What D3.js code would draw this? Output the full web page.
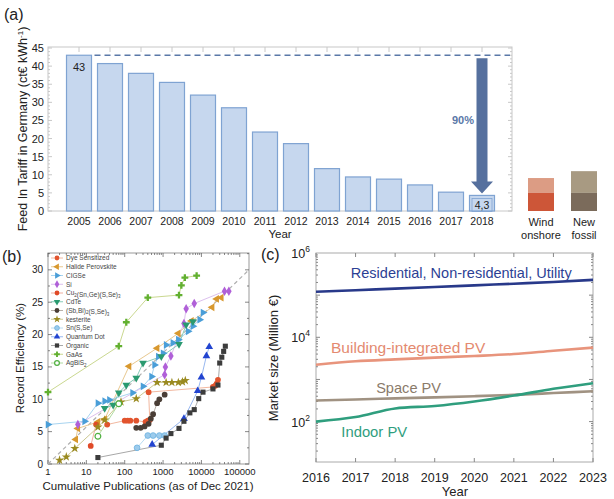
<!DOCTYPE html>
<html>
<head>
<meta charset="utf-8">
<script src="https://cdn.jsdelivr.net/npm/d3@7"></script>
<style>
  body { margin: 0; background: #fff; }
  svg { font-family: "Liberation Sans", Arial, sans-serif; display: block; }
</style>
</head>
<body>
<svg id="fig" width="614" height="499"></svg>
<script>
// ---- panel (a) data ----
const tariffYears = [2005, 2006, 2007, 2008, 2009, 2010, 2011, 2012, 2013, 2014, 2015, 2016, 2017, 2018];
const tariffValues = [43, 40.7, 38, 35.5, 32, 28.5, 21.8, 18.6, 11.7, 9.4, 8.8, 7.2, 5.2, 4.3];
const compareNames = ["Wind onshore", "New fossil"];
const compareLow = [5.0, 5.0];
const compareHigh = [9.1, 11.0];

// ---- panel (b) data: [cumulative publications, record efficiency %] ----
const techNames = ["Dye Sensitized", "Halide Perovskite", "CIGSe", "Si", "Cu2(Sn,Ge)(S,Se)3", "CdTe",
  "(Sb,Bi)2(S,Se)3", "kesterite", "Sn(S,Se)", "Quantum Dot", "Organic", "GaAs", "AgBiS2"];
const dyeSensitized = [[35, 6.1], [100, 6.7], [120, 6.7], [140, 6.7], [200, 6.7], [350, 6.5], [400, 6.7], [450, 6.8], [420, 11.1], [20000, 11.9], [23000, 12.1], [25000, 12.4], [27000, 13.0]];
const halidePerovskite = [[5.3, 3.8], [6, 5.5], [20, 6.5], [30, 6.9], [130, 15.1], [700, 17.9], [2500, 20.2], [5500, 22.1], [19000, 24.2], [25000, 25.5], [33000, 25.7]];
const cigse = [[1, 6.1], [9, 6.6], [20, 9.4], [30, 9.7], [40, 9.9], [160, 11.0], [300, 12.0], [500, 13.5], [600, 15.3], [750, 16.6], [1000, 17.1], [1200, 18.4], [1800, 18.7], [2500, 19.2], [4500, 20.5], [6000, 21.3], [9000, 22.3], [11000, 23.4]];
const silicon = [[6, 6.1], [1100, 13.8], [1150, 15.0], [1600, 16.7], [3500, 21.7], [4000, 24.0], [6500, 24.8], [40000, 26.7], [52000, 26.7]];
const cuSnGe = [[13, 2.8], [18, 6.1]];
const cdte = [[30, 8.6], [50, 9.1], [70, 11.0], [110, 12.2], [200, 13.3], [300, 15.6], [900, 16.6], [2600, 18.5], [4000, 21.5], [6000, 22.0]];
const sbBi = [[200, 5.6], [260, 5.6], [330, 5.8], [420, 6.2], [480, 7.0], [550, 7.7], [700, 9.4], [800, 10.0], [1100, 10.7]];
const kesterite = [[2, 0.6], [3, 1.1], [5, 2.4], [20, 5.7], [30, 6.8], [80, 9.6], [200, 10.1], [700, 12.6], [1200, 12.6], [1700, 12.6], [2500, 12.6], [3200, 12.7], [3800, 12.9]];
const snSSe = [[210, 2.5], [400, 4.4], [550, 4.4], [800, 4.4], [1100, 4.4]];
const quantumDot = [[520, 3.0], [3500, 7.0], [8000, 11.3], [10000, 13.4], [13500, 16.7], [16000, 18.1]];
const organic = [[20, 1.0], [900, 2.9], [1200, 4.0], [1600, 4.7], [2600, 5.5], [3500, 6.6], [5000, 7.9], [6500, 8.4], [8500, 10.1], [11000, 11.1], [20000, 11.6], [27000, 12.2], [30000, 15.6], [34000, 16.5], [38000, 17.4], [42000, 18.2]];
const gaas = [[1, 11.1], [70, 18.2], [110, 21.9], [400, 25.7], [2600, 26.1], [3000, 27.6], [3700, 28.8], [7500, 29.1]];
const agbis2 = [[20, 4.3], [70, 9.3]];
const trendLine = [[1, 0], [174000, 30]];
const effTicks = [0, 5, 10, 15, 20, 25, 30];
const pubTicks = [1, 10, 100, 1000, 10000, 100000];

// ---- panel (c) data: market size, million € ----
const marketYears = [2016, 2017, 2018, 2019, 2020, 2021, 2022, 2023];
const residential = [120000, 131000, 143000, 156000, 171000, 187000, 205000, 230000];
const buildingPV = [2240, 2700, 3000, 3300, 3600, 4000, 4800, 5700];
const spacePV = [316, 335, 355, 375, 400, 430, 475, 525];
const indoorPV = [100, 128, 205, 235, 300, 415, 600, 815];
const marketExps = [2, 4, 6];

const svg = d3.select("#fig");
svg.append("rect").attr("width", 614).attr("height", 499).attr("fill", "#fff");

const FRAME = "#c8c8c8";
const TXT = "#222";

// ================= panel (a) =================
const xA = d3.scalePoint().domain(tariffYears).range([79, 482]);
const yA = d3.scaleLinear().domain([0, 45]).range([211, 48]);
const cmpX = d3.scalePoint().domain(compareNames).range([541, 584]);
const barW = 25;
const gA = svg.append("g");

gA.append("rect").attr("x", 48).attr("y", 47).attr("width", 464).attr("height", 164)
  .attr("fill", "none").attr("stroke", FRAME);

// minor and major ticks on left and right
d3.range(0, 46, 1).forEach((v) => {
  const len = v % 5 === 0 ? 4 : 2;
  gA.append("line").attr("x1", 48).attr("x2", 48 + len).attr("y1", yA(v)).attr("y2", yA(v)).attr("stroke", FRAME);
  gA.append("line").attr("x1", 512).attr("x2", 512 - len).attr("y1", yA(v)).attr("y2", yA(v)).attr("stroke", FRAME);
});
tariffYears.forEach((yr) => {
  gA.append("line").attr("x1", xA(yr)).attr("x2", xA(yr)).attr("y1", 47).attr("y2", 52).attr("stroke", FRAME);
  gA.append("line").attr("x1", xA(yr)).attr("x2", xA(yr)).attr("y1", 211).attr("y2", 207).attr("stroke", FRAME);
});

gA.selectAll(".ytA").data(d3.range(0, 46, 5)).join("text")
  .attr("x", 44).attr("y", (d) => yA(d) + 4).attr("text-anchor", "end")
  .attr("font-size", 11).attr("fill", TXT).text((d) => d);

gA.selectAll(".xtA").data(tariffYears).join("text")
  .attr("x", (d) => xA(d)).attr("y", 225).attr("text-anchor", "middle")
  .attr("font-size", 10.5).attr("fill", TXT).text((d) => d);

gA.append("text").attr("x", 280).attr("y", 238).attr("text-anchor", "middle")
  .attr("font-size", 11.5).attr("fill", TXT).text("Year");

const yLabA = gA.append("text").attr("transform", "translate(27,129) rotate(-90)")
  .attr("text-anchor", "middle").attr("font-size", 12.5).attr("fill", TXT);
yLabA.append("tspan").text("Feed In Tariff in Germany (ct€ kWh");
yLabA.append("tspan").attr("dy", -4).attr("font-size", 8).text("-1");
yLabA.append("tspan").attr("dy", 4).text(")");

gA.selectAll(".barA").data(tariffValues).join("rect")
  .attr("x", (d, i) => xA(tariffYears[i]) - barW / 2)
  .attr("y", (d) => yA(d))
  .attr("width", barW)
  .attr("height", (d) => yA(0) - yA(d))
  .attr("fill", "#c6d7ee").attr("stroke", "#7fa3d2").attr("stroke-width", 1.2);

// dashed reference line at the 2005 value
gA.append("line").attr("x1", xA(2005) + barW / 2 + 3).attr("x2", 510)
  .attr("y1", yA(tariffValues[0])).attr("y2", yA(tariffValues[0]))
  .attr("stroke", "#5a78a8").attr("stroke-width", 1.5).attr("stroke-dasharray", "6,4");

gA.append("text").attr("x", xA(2005)).attr("y", yA(tariffValues[0]) + 16).attr("text-anchor", "middle")
  .attr("font-size", 11).attr("fill", TXT).text("43");

const last = tariffValues[tariffValues.length - 1];
const lx = xA(2018);
gA.append("rect").attr("x", lx - 10).attr("y", yA(last) + 3).attr("width", 20).attr("height", 13)
  .attr("fill", "none").attr("stroke", "#7fa3d2").attr("stroke-width", 0.8);
gA.append("text").attr("x", lx).attr("y", yA(last) + 14).attr("text-anchor", "middle")
  .attr("font-size", 10.5).attr("fill", TXT).text("4,3");

// downward arrow from 43 to 4.3
const aTop = yA(tariffValues[0]) + 3;
const aTip = yA(last) - 2;
const headH = 12;
gA.append("path")
  .attr("d", `M${lx - 5.5},${aTop} L${lx + 5.5},${aTop} L${lx + 5.5},${aTip - headH} L${lx + 11},${aTip - headH} L${lx},${aTip} L${lx - 11},${aTip - headH} L${lx - 5.5},${aTip - headH} Z`)
  .attr("fill", "#56709e");
gA.append("text").attr("x", lx - 19).attr("y", 124).attr("text-anchor", "middle")
  .attr("font-size", 11).attr("font-weight", "bold").attr("fill", "#5a78a8").text("90%");

// comparison blocks
const cmpLight = ["#dc9c84", "#a89a82"];
const cmpDark = ["#cd5638", "#7b6b5b"];
compareNames.forEach((n, i) => {
  gA.append("rect").attr("x", cmpX(n) - 13).attr("y", yA(compareHigh[i])).attr("width", 26)
    .attr("height", yA(compareLow[i]) - yA(compareHigh[i])).attr("fill", cmpLight[i]);
  gA.append("rect").attr("x", cmpX(n) - 13).attr("y", yA(compareLow[i])).attr("width", 26)
    .attr("height", yA(0) - yA(compareLow[i])).attr("fill", cmpDark[i]);
  const words = n.split(" ");
  words.forEach((w, k) => {
    gA.append("text").attr("x", cmpX(n)).attr("y", 226 + k * 13).attr("text-anchor", "middle")
      .attr("font-size", 11).attr("fill", TXT).text(w);
  });
});

// ================= panel (b) =================
const xB = d3.scaleLog().domain([1, 174000]).range([48, 249]);
const yB = d3.scaleLinear().domain([0, 32.6]).range([464, 253]);
const gB = svg.append("g");

gB.append("rect").attr("x", 48).attr("y", 253).attr("width", 201).attr("height", 211)
  .attr("fill", "none").attr("stroke", "#999");

// log ticks top and bottom
const minorB = [];
for (let e = 0; e < 6; e++) {
  for (let m = 1; m < 10; m++) {
    const v = m * Math.pow(10, e);
    if (v <= 174000) minorB.push(v);
  }
}
minorB.forEach((v) => {
  const len = pubTicks.includes(v) ? 4 : 2;
  gB.append("line").attr("x1", xB(v)).attr("x2", xB(v)).attr("y1", 464).attr("y2", 464 - len).attr("stroke", "#555").attr("stroke-width", 0.7);
  gB.append("line").attr("x1", xB(v)).attr("x2", xB(v)).attr("y1", 253).attr("y2", 253 + len).attr("stroke", "#555").attr("stroke-width", 0.7);
});
d3.range(0, 32.6, 2.5).forEach((v) => {
  const len = v % 5 === 0 ? 4 : 2;
  gB.append("line").attr("x1", 48).attr("x2", 48 + len).attr("y1", yB(v)).attr("y2", yB(v)).attr("stroke", "#555").attr("stroke-width", 0.7);
  gB.append("line").attr("x1", 249).attr("x2", 249 - len).attr("y1", yB(v)).attr("y2", yB(v)).attr("stroke", "#555").attr("stroke-width", 0.7);
});

gB.selectAll(".ytB").data(effTicks).join("text")
  .attr("x", 43).attr("y", (d) => yB(d) + 3.5).attr("text-anchor", "end")
  .attr("font-size", 10).attr("fill", TXT).text((d) => d);
gB.selectAll(".xtB").data(pubTicks).join("text")
  .attr("x", (d) => xB(d)).attr("y", 475).attr("text-anchor", "middle")
  .attr("font-size", 9.5).attr("fill", TXT).text((d) => d);
gB.append("text").attr("x", 148).attr("y", 490).attr("text-anchor", "middle")
  .attr("font-size", 11.5).attr("fill", TXT).text("Cumulative Publications (as of Dec 2021)");
gB.append("text").attr("transform", "translate(24,358) rotate(-90)").attr("text-anchor", "middle")
  .attr("font-size", 11.5).attr("fill", TXT).text("Record Efficiency (%)");

const lineB = d3.line().x((d) => xB(d[0])).y((d) => yB(d[1]));
gB.append("path").attr("d", lineB(trendLine)).attr("fill", "none")
  .attr("stroke", "#b0b0b0").attr("stroke-width", 1.2).attr("stroke-dasharray", "4,3");

const techSeries = [dyeSensitized, halidePerovskite, cigse, silicon, cuSnGe, cdte, sbBi, kesterite, snSSe, quantumDot, organic, gaas, agbis2];
const techColor = ["#e2542e", "#d8982e", "#4a9ed8", "#b060d8", "#e04a28", "#2a9a70", "#4a3e36", "#9a8a20", "#6ab0e0", "#2244d0", "#3c3c3c", "#62b030", "#50b040"];
const techLine = ["#f2b8a0", "#e8c890", "#a8d4f0", "#dcc0ee", "#f0b0a0", "#88ccb8", "#b8b0a8", "#ccc890", "#b8dcf2", "#98b8f0", "#a8a8a8", "#cad890", "#b0dca0"];
const S = d3;
const techSymbol = [S.symbolCircle, S.symbolTriangle, S.symbolTriangle, S.symbolDiamond, S.symbolCircle, S.symbolTriangle,
  S.symbolCircle, S.symbolStar, S.symbolCircle, S.symbolTriangle, S.symbolSquare, S.symbolCross, S.symbolCircle];
const techRotate = [0, -90, 90, 0, 0, 180, 0, 0, 0, 0, 0, 0, 0];
const symSize = 26;

function marker(g, i, x, y, size) {
  const p = g.append("path")
    .attr("d", d3.symbol().type(techSymbol[i]).size(size)())
    .attr("transform", `translate(${x},${y}) rotate(${techRotate[i]})`);
  if (i === 12) {
    p.attr("fill", "#fff").attr("stroke", techColor[i]).attr("stroke-width", 1.2);
  } else if (i === 8) {
    p.attr("fill", "#9ccbec").attr("stroke", techColor[i]).attr("stroke-width", 0.8);
  } else {
    p.attr("fill", techColor[i]);
  }
}

techSeries.forEach((pts, i) => {
  gB.append("path").attr("d", lineB(pts)).attr("fill", "none")
    .attr("stroke", techLine[i]).attr("stroke-width", 1);
});
techSeries.forEach((pts, i) => {
  pts.forEach((p) => marker(gB, i, xB(p[0]), yB(p[1]), symSize));
});

// legend, digits in names are set as subscripts
const legY = d3.scalePoint().domain(techNames).range([258, 363]);
function legendText(t, name) {
  name.split(/(\d)/).filter((s) => s !== "").forEach((s) => {
    if (/^\d$/.test(s)) {
      t.append("tspan").attr("font-size", 4.5).attr("dy", 1.5).text(s);
      t.append("tspan").attr("dy", -1.5).text("");
    } else {
      t.append("tspan").text(s);
    }
  });
}
techNames.forEach((n, i) => {
  const y = legY(n);
  gB.append("line").attr("x1", 51).attr("x2", 63).attr("y1", y).attr("y2", y).attr("stroke", techLine[i]).attr("stroke-width", 1);
  marker(gB, i, 57, y, 18);
  const t = gB.append("text").attr("x", 66).attr("y", y + 2.3).attr("font-size", 6.5).attr("fill", "#444");
  legendText(t, n);
});

// ================= panel (c) =================
const xC = d3.scaleLinear().domain([2016, 2023]).range([316, 593]);
const yC = d3.scaleLog().domain([11, 1e6]).range([462, 253]);
const gC = svg.append("g");

gC.append("rect").attr("x", 316).attr("y", 253).attr("width", 277).attr("height", 209)
  .attr("fill", "none").attr("stroke", "#aaa");
marketYears.forEach((yr) => {
  gC.append("line").attr("x1", xC(yr)).attr("x2", xC(yr)).attr("y1", 462).attr("y2", 458).attr("stroke", "#888");
  gC.append("line").attr("x1", xC(yr)).attr("x2", xC(yr)).attr("y1", 253).attr("y2", 257).attr("stroke", "#888");
});
for (let e = 1; e < 6; e++) {
  for (let m = 1; m < 10; m++) {
    const v = m * Math.pow(10, e);
    if (v < 11) continue;
    const len = m === 1 ? 4 : 2;
    gC.append("line").attr("x1", 316).attr("x2", 316 + len).attr("y1", yC(v)).attr("y2", yC(v)).attr("stroke", "#888");
    gC.append("line").attr("x1", 593).attr("x2", 593 - len).attr("y1", yC(v)).attr("y2", yC(v)).attr("stroke", "#888");
  }
}

marketExps.forEach((e) => {
  const t = gC.append("text").attr("x", 310).attr("y", yC(Math.pow(10, e)) + 5).attr("text-anchor", "end")
    .attr("font-size", 12.5).attr("fill", TXT);
  t.append("tspan").text("10");
  t.append("tspan").attr("dy", -6).attr("font-size", 8.5).text(e);
});
gC.selectAll(".xtC").data(marketYears).join("text")
  .attr("x", (d) => xC(d)).attr("y", 482).attr("text-anchor", "middle")
  .attr("font-size", 12.5).attr("fill", TXT).text((d) => d);
gC.append("text").attr("x", 455).attr("y", 496).attr("text-anchor", "middle")
  .attr("font-size", 13).attr("fill", TXT).text("Year");
gC.append("text").attr("transform", "translate(278,358) rotate(-90)").attr("text-anchor", "middle")
  .attr("font-size", 13).attr("fill", TXT).text("Market size (Million €)");

const lineC = d3.line().x((d, i) => xC(marketYears[i])).y((d) => yC(d)).curve(d3.curveMonotoneX);
const marketSeries = [residential, buildingPV, spacePV, indoorPV];
const marketColor = ["#28398a", "#e8947c", "#a09282", "#2f9e7e"];
const marketText = ["#2c3f94", "#e48a70", "#8a7a6a", "#2f9e7e"];
const marketLabel = ["Residential, Non-residential, Utility", "Building-integrated PV", "Space PV", "Indoor PV"];
// label anchor in data units: [year, market size, font size]
const labelPos = [[2016.88, 250000, 14.5], [2016.38, 4300, 15.5], [2017.52, 480, 14.6], [2016.64, 44, 14.8]];

marketSeries.forEach((s, i) => {
  gC.append("path").attr("d", lineC(s)).attr("fill", "none")
    .attr("stroke", marketColor[i]).attr("stroke-width", 2.6);
  gC.append("text").attr("x", xC(labelPos[i][0])).attr("y", yC(labelPos[i][1]))
    .attr("font-size", labelPos[i][2]).attr("fill", marketText[i]).text(marketLabel[i]);
});

// panel letters
svg.append("text").attr("x", 4).attr("y", 20).attr("font-size", 16).attr("fill", TXT).text("(a)");
svg.append("text").attr("x", 2).attr("y", 262).attr("font-size", 16).attr("fill", TXT).text("(b)");
svg.append("text").attr("x", 261).attr("y", 260).attr("font-size", 16).attr("fill", TXT).text("(c)");
</script>
</body>
</html>
